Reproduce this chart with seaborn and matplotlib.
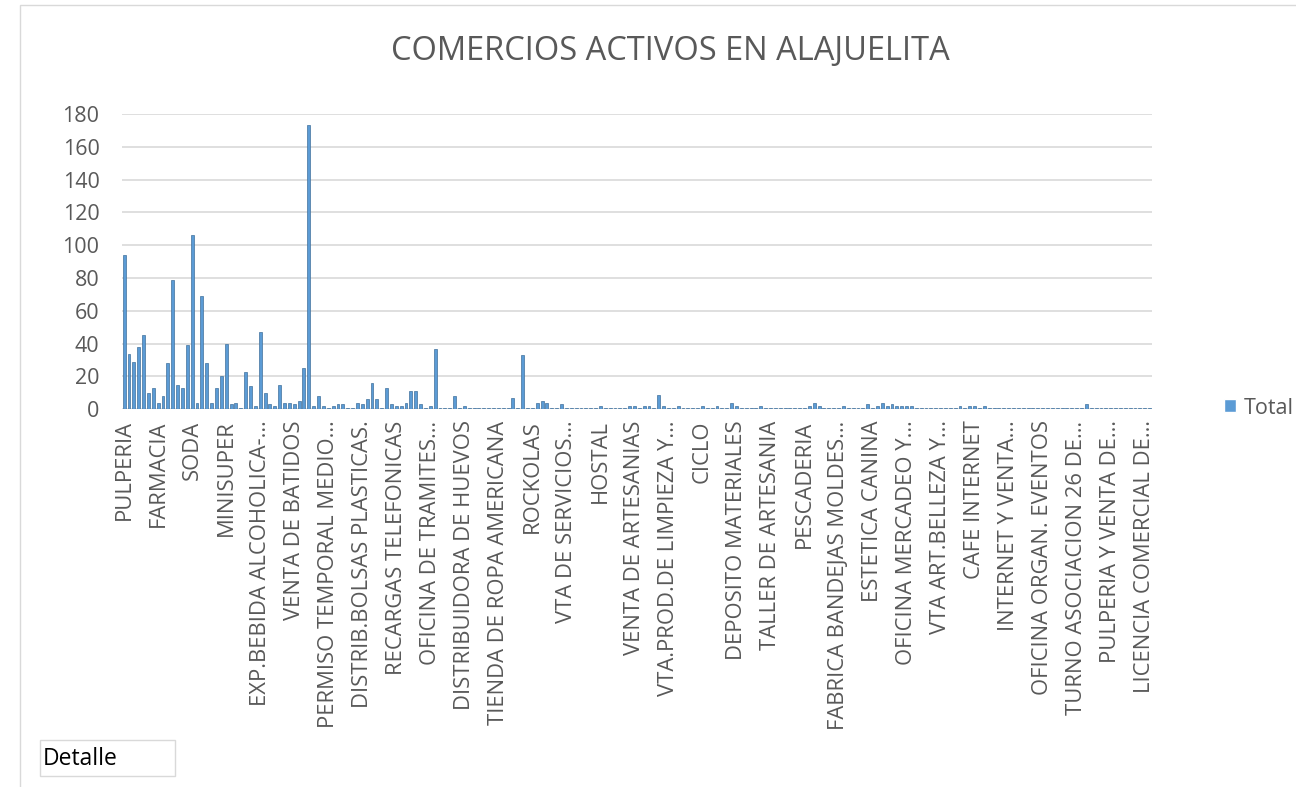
import numpy as np
import pandas as pd
import matplotlib.pyplot as plt
import seaborn as sns
from matplotlib.patches import Rectangle, Patch

sns.set_theme(style='white')
plt.rcParams['font.family'] = ['Open Sans', 'DejaVu Sans']

# cantidad de comercios por actividad (212 actividades)
totales = [94, 34, 29, 38, 45, 10, 13, 4, 8, 28, 79, 15, 13, 39, 106, 4, 69, 28, 4, 13,
           20, 40, 3, 4, 1, 23, 14, 2, 47, 10, 3, 2, 15, 4, 4, 3, 5, 25, 173, 2,
           8, 2, 1, 2, 3, 3, 1, 1, 4, 3, 6, 16, 6, 1, 13, 3, 2, 2, 4, 11,
           11, 3, 1, 2, 37, 1, 1, 1, 8, 1, 2, 1, 1, 1, 1, 1, 1, 1, 1, 1,
           7, 1, 33, 1, 1, 4, 5, 4, 1, 1, 3, 1, 1, 1, 1, 1, 1, 1, 2, 1,
           1, 1, 1, 1, 2, 2, 1, 2, 2, 1, 9, 2, 1, 1, 2, 1, 1, 1, 1, 2,
           1, 1, 2, 1, 1, 4, 2, 1, 1, 1, 1, 2, 1, 1, 1, 1, 1, 1, 1, 1,
           1, 2, 4, 2, 1, 1, 1, 1, 2, 1, 1, 1, 1, 3, 1, 2, 4, 2, 3, 2,
           2, 2, 2, 1, 1, 1, 1, 1, 1, 1, 1, 1, 2, 1, 2, 2, 1, 2, 1, 1,
           1, 1, 1, 1, 1, 1, 1, 1, 1, 1, 1, 1, 1, 1, 1, 1, 1, 1, 3, 1,
           1, 1, 1, 1, 1, 1, 1, 1, 1, 1, 1, 1]

# solo se ve una etiqueta cada 7 actividades
etiquetas = ['PULPERIA', 'FARMACIA', 'SODA', 'MINISUPER', 'EXP.BEBIDA ALCOHOLICA-…',
             'VENTA DE BATIDOS', 'PERMISO TEMPORAL MEDIO…', 'DISTRIB.BOLSAS PLASTICAS.',
             'RECARGAS TELEFONICAS', 'OFICINA DE TRAMITES…', 'DISTRIBUIDORA DE HUEVOS',
             'TIENDA DE ROPA AMERICANA', 'ROCKOLAS', 'VTA DE SERVICIOS…', 'HOSTAL',
             'VENTA DE ARTESANIAS', 'VTA.PROD.DE LIMPIEZA Y…', 'CICLO', 'DEPOSITO MATERIALES',
             'TALLER DE ARTESANIA', 'PESCADERIA', 'FABRICA BANDEJAS MOLDES…', 'ESTETICA CANINA',
             'OFICINA MERCADEO Y…', 'VTA ART.BELLEZA Y…', 'CAFE INTERNET', 'INTERNET Y VENTA…',
             'OFICINA ORGAN. EVENTOS', 'TURNO ASOCIACION 26 DE…', 'PULPERIA Y VENTA DE…',
             'LICENCIA COMERCIAL DE…']
paso = 7

df = pd.DataFrame({'pos': np.arange(len(totales)), 'Total': totales})

gris = '#595959'
azul = '#5b9bd5'

fig = plt.figure(figsize=(12.96, 7.87), dpi=100)
ax = fig.add_axes([121.7 / 1296, 1 - 409.3 / 787, (1152 - 121.7) / 1296, (409.3 - 114) / 787])

sns.barplot(data=df, x='pos', y='Total', color=azul, saturation=1, width=0.6,
            edgecolor='#41719c', linewidth=0.5, ax=ax)

ax.set_xlim(-0.5, len(totales) - 0.5)
ax.set_ylim(0, 180)
ax.set_yticks(range(0, 181, 20))
ax.yaxis.grid(True, color='#d9d9d9', linewidth=1.2)
ax.set_axisbelow(True)
sns.despine(ax=ax, left=True, bottom=True)

ax.set_xticks(range(0, len(totales), paso))
ax.set_xticklabels(etiquetas, rotation=90)
ax.tick_params(axis='x', length=0, pad=8, labelsize=15.8, labelcolor=gris)
ax.tick_params(axis='y', length=0, pad=16, labelsize=15.5, labelcolor=gris)
ax.set_xlabel('')
ax.set_ylabel('')

fig.text(670 / 1296, 1 - 52 / 787, 'COMERCIOS ACTIVOS EN ALAJUELITA',
         ha='center', va='center', fontsize=23.5, color=gris)

fig.legend(handles=[Patch(facecolor=azul, label='Total')], loc='center left',
           bbox_to_anchor=(1205 / 1296, 1 - 408 / 787), frameon=False, fontsize=15.5,
           handlelength=0.55, handleheight=0.55, handletextpad=0.35, labelcolor=gris)

# marco del area del grafico
fig.add_artist(Rectangle((20 / 1296, -0.05), 1.1, 1.05 - 5 / 787, transform=fig.transFigure,
                         fill=False, edgecolor='#d9d9d9', linewidth=1))

# cuadro "Detalle"
fig.add_artist(Rectangle((40 / 1296, 1 - 776 / 787), 135 / 1296, 36 / 787,
                         transform=fig.transFigure, facecolor='white',
                         edgecolor='#d9d9d9', linewidth=1))
fig.text(43 / 1296, 1 - 759 / 787, 'Detalle', ha='left', va='center', fontsize=16.5, color='black')

fig.savefig('out.png', dpi=100)
